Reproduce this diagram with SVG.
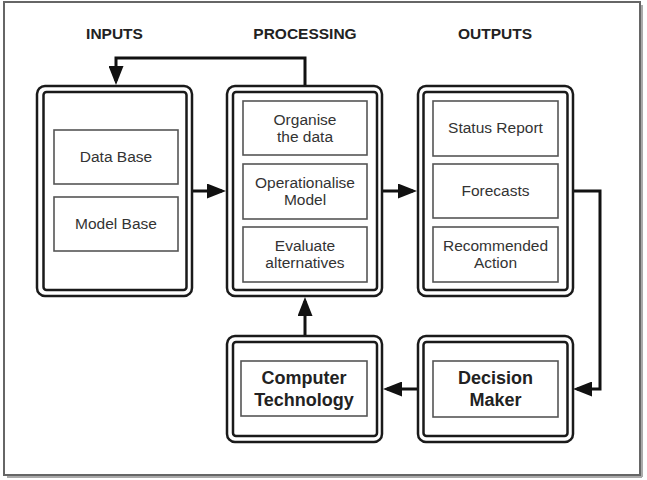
<svg xmlns="http://www.w3.org/2000/svg" width="647" height="480" viewBox="0 0 647 480">
<style>
.outer{fill:#fff;stroke:#1a1a1a;stroke-width:2.5}
.inner{fill:#fff;stroke:#1a1a1a;stroke-width:2.5}
.cell{fill:#fff;stroke:#555;stroke-width:1.6}
.hdr{font-family:"Liberation Sans",Arial,sans-serif;font-weight:bold;font-size:15.5px;fill:#222;text-anchor:middle}
.txt{font-family:"Liberation Sans",Arial,sans-serif;font-size:15.5px;fill:#333;text-anchor:middle}
.big{font-family:"Liberation Sans",Arial,sans-serif;font-weight:bold;font-size:18px;fill:#222;text-anchor:middle}
.con{fill:none;stroke:#111;stroke-width:3;marker-end:url(#ah)}
</style>
<defs>
<marker id="ah" viewBox="0 0 19 15" refX="15" refY="7.5" markerWidth="19" markerHeight="15" markerUnits="userSpaceOnUse" orient="auto">
<path d="M0,0 L19,7.5 L0,15 z" fill="#111"/>
</marker>
</defs>
<rect x="0" y="0" width="647" height="480" fill="#fff"/>
<line x1="642" y1="5" x2="642" y2="477" stroke="#aaa" stroke-width="2"/>
<line x1="7" y1="477" x2="642" y2="477" stroke="#aaa" stroke-width="2"/>
<rect x="4" y="2" width="636" height="473" fill="#fff" stroke="#666" stroke-width="2"/>

<text class="hdr" x="114.5" y="39">INPUTS</text>
<text class="hdr" x="305" y="39">PROCESSING</text>
<text class="hdr" x="495" y="39">OUTPUTS</text>

<g id="connectors">
<path class="con" d="M305,86 V58 H116 V81"/>
<path class="con" d="M193,191 H222"/>
<path class="con" d="M383,191 H413"/>
<path class="con" d="M574,191 H600 V389 H577"/>
<path class="con" d="M417,389 H387"/>
<path class="con" d="M305,335 V301"/>
</g>

<g id="inputs">
<rect class="outer" x="37" y="86" width="155" height="210" rx="8"/>
<rect class="inner" x="43.5" y="92" width="143" height="198" rx="3"/>
<rect class="cell" x="54" y="130" width="124" height="54"/>
<text class="txt" x="116" y="162">Data Base</text>
<rect class="cell" x="54" y="197" width="124" height="54"/>
<text class="txt" x="116" y="229">Model Base</text>
</g>

<g id="processing">
<rect class="outer" x="227" y="86" width="155" height="210" rx="8"/>
<rect class="inner" x="233" y="92" width="144" height="198" rx="3"/>
<rect class="cell" x="243" y="101" width="124" height="54"/>
<text class="txt" x="305" y="125">Organise</text>
<text class="txt" x="305" y="142">the data</text>
<rect class="cell" x="243" y="164" width="124" height="55"/>
<text class="txt" x="305" y="188">Operationalise</text>
<text class="txt" x="305" y="205">Model</text>
<rect class="cell" x="243" y="227" width="124" height="55"/>
<text class="txt" x="305" y="251">Evaluate</text>
<text class="txt" x="305" y="268">alternatives</text>
</g>

<g id="outputs">
<rect class="outer" x="418" y="86" width="155" height="210" rx="8"/>
<rect class="inner" x="423.5" y="92" width="144" height="198" rx="3"/>
<rect class="cell" x="433" y="101" width="125" height="55"/>
<text class="txt" x="495.5" y="133">Status Report</text>
<rect class="cell" x="433" y="164" width="125" height="54"/>
<text class="txt" x="495.5" y="196">Forecasts</text>
<rect class="cell" x="433" y="227" width="125" height="55"/>
<text class="txt" x="495.5" y="251">Recommended</text>
<text class="txt" x="495.5" y="268">Action</text>
</g>

<g id="computer-technology">
<rect class="outer" x="227" y="336" width="155" height="106" rx="8"/>
<rect class="inner" x="233" y="342" width="144" height="94" rx="3"/>
<rect class="cell" x="241" y="361" width="126" height="55"/>
<text class="big" x="304" y="384">Computer</text>
<text class="big" x="304" y="406">Technology</text>
</g>

<g id="decision-maker">
<rect class="outer" x="418" y="336" width="155" height="106" rx="8"/>
<rect class="inner" x="423.5" y="342" width="144" height="94" rx="3"/>
<rect class="cell" x="433" y="361" width="125" height="56"/>
<text class="big" x="495.5" y="384">Decision</text>
<text class="big" x="495.5" y="406">Maker</text>
</g>
</svg>
